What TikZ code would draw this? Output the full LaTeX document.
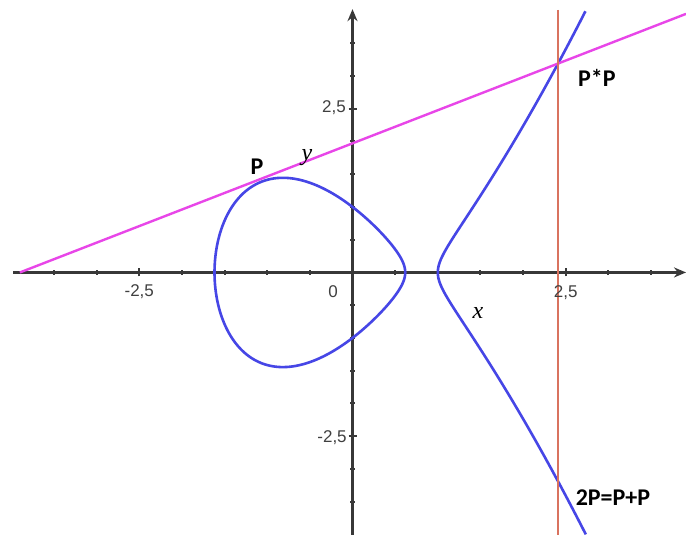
\documentclass[tikz,border=0pt]{standalone}
\usepackage{fontspec}
\usepackage{xcolor}
\usepackage{tikz}
\usetikzlibrary{arrows.meta}
\newfontfamily\ptfont{Carlito}
\newfontfamily\tkfont{Liberation Sans}
\newfontfamily\varfont{Liberation Serif}
\definecolor{ECBlue}{HTML}{4646E6}
\definecolor{ECPink}{HTML}{E846E8}
\definecolor{ECRed}{HTML}{D9735F}
\definecolor{ECAxis}{HTML}{383838}
\definecolor{ECTick}{HTML}{404040}

\begin{document}
\begin{tikzpicture}[x=42.65pt,y=32.75pt,
  axis/.style={ECAxis,line width=1.1pt},
  tickmark/.style={ECAxis,line width=1pt},
  curve/.style={ECBlue,line width=1.3pt},
  secant/.style={ECPink,line width=1.2pt},
  vertline/.style={ECRed,line width=1.1pt},
  ticklabel/.style={font=\tkfont\fontsize{8.5}{9}\selectfont,text=ECTick,inner sep=1pt},
  ptlabel/.style={font=\ptfont\bfseries\fontsize{12}{13}\selectfont,inner sep=1pt},
  varlabel/.style={font=\varfont\itshape\fontsize{12}{13}\selectfont,inner sep=0pt}]
\path[use as bounding box] (-4.133,-4.008) rectangle (3.910,4.160);
\fill[white] (-4.133,-4.008) rectangle (3.910,4.160);
\draw[axis,-{Stealth[length=6pt,width=5pt]}] (-3.98,0) -- (3.91,0);
\draw[axis,-{Stealth[length=6pt,width=5pt]}] (0,-4.008) -- (0,4.02);
\foreach \t in {-3.5,-3,-2,-1.5,-1,-0.5,0.5,1,1.5,2,3,3.5}
  \draw[tickmark] (\t,0) ++(0,-1.25pt) -- ++(0,2.5pt);
\foreach \t in {-3.5,-3,-2,-1.5,-1,-0.5,0.5,1,1.5,2,3,3.5}
  \draw[tickmark] (0,\t) ++(-1.25pt,0) -- ++(2.5pt,0);
\foreach \t in {-2.5,2.5} {
  \draw[tickmark] (\t,0) ++(0,-2pt) -- ++(0,4pt);
  \draw[tickmark] (0,\t) ++(-2pt,0) -- ++(4pt,0);
}
\draw[curve,line cap=round] plot[variable=\t,domain=0:358,samples=180,smooth cycle]
  ({-0.5+1.118034*cos(\t)},{sin(\t)*sqrt(1.25*(1.5-1.118034*cos(\t)))});
\draw[curve] plot[variable=\u,domain=-1.3174:1.3174,samples=121,smooth]
  ({1+(\u)*(\u)},{(\u)*sqrt((1+(\u)*(\u))^2+(1+(\u)*(\u))-1)});
\coordinate (lnA) at (-3.90,0);
\coordinate (lnB) at (3.91,3.948);
\draw[secant] (lnA) -- (lnB);
\coordinate (vtTop) at (2.41,4.01);
\coordinate (vtBot) at (2.41,-4.008);
\draw[vertline] (vtTop) -- (vtBot);
\node[ticklabel] (tkXneg) at (-2.5,-0.30) {-2,5};
\node[ticklabel] (tkZero) at (-0.228,-0.30) {0};
\node[ticklabel] (tkXpos) at (2.5,-0.31) {2,5};
\node[ticklabel,anchor=east] (tkYpos) at (-0.05,2.51) {2,5};
\node[ticklabel,anchor=east] (tkYneg) at (-0.04,-2.53) {-2,5};
\node[ptlabel] (lblP) at (-1.12,1.61) {P};
\node[varlabel] (lblY) at (-0.533,1.76) {y};
\node[varlabel] (lblX) at (1.471,-0.618) {x};
\node[ptlabel] (lblPP) at (2.866,2.97) {P*P};
\node[ptlabel] (lblTwoP) at (3.054,-3.44) {2P=P+P};
\end{tikzpicture}
\end{document}
